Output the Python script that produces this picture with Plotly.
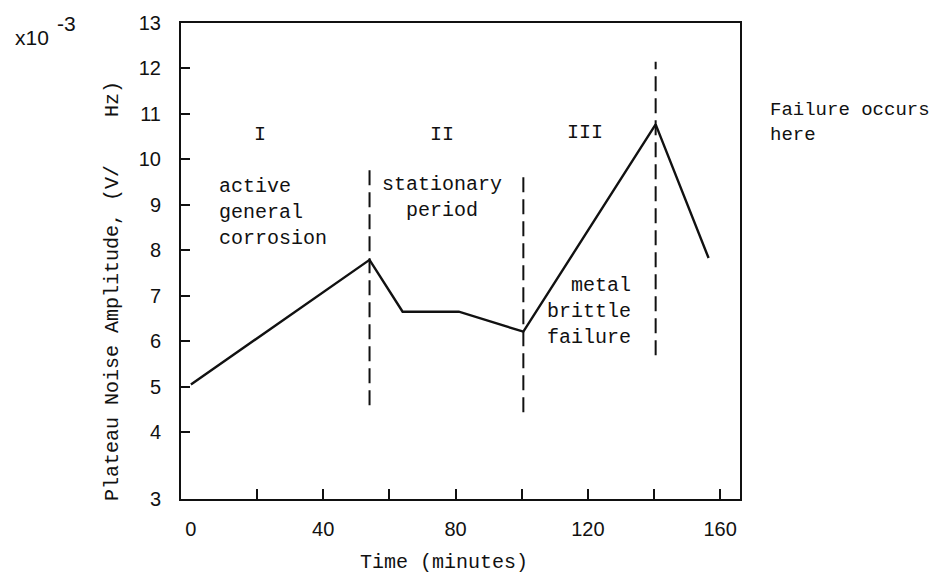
import plotly.graph_objects as go

# ---- data ----
time_min = [0, 54, 64, 81, 100.5, 140.5, 156.5]
amplitude = [5.05, 7.79, 6.65, 6.65, 6.21, 10.77, 7.83]

phase_bounds = [54, 100.5, 140.5]
phase_bound_low = [4.59, 4.44, 5.69]
phase_bound_high = [9.78, 9.74, 12.15]

x_label_vals = [0, 40, 80, 120, 160]
x_label_text = ["0", "40", "80", "120", "160"]
x_minor_vals = [20, 40, 60, 80, 100, 120, 140, 160]
y_tick_vals = [2.53, 4, 5, 6, 7, 8, 9, 10, 11, 12, 13]
y_tick_text = ["3", "4", "5", "6", "7", "8", "9", "10", "11", "12", "13"]

MONO = "Liberation Mono"
SANS = "Liberation Sans"
INK = "#111111"

fig = go.Figure()
fig.add_trace(go.Scatter(x=time_min, y=amplitude, mode="lines",
                         line=dict(color=INK, width=2.4), showlegend=False,
                         hoverinfo="skip"))

for xb, y0, y1 in zip(phase_bounds, phase_bound_low, phase_bound_high):
    fig.add_shape(type="line", x0=xb, x1=xb, y0=y0, y1=y1, xref="x", yref="y",
                  line=dict(color=INK, width=2, dash="15px,7px"))

def ann(text, x, y, xanchor="center", yanchor="middle", align="center",
        size=20, family=MONO, xref="x", yref="y", angle=0):
    fig.add_annotation(text=text, x=x, y=y, xref=xref, yref=yref,
                       xanchor=xanchor, yanchor=yanchor, align=align,
                       showarrow=False, textangle=angle,
                       font=dict(family=family, size=size, color=INK))

ann("I", 20.9, 10.55)
ann("II", 75.9, 10.55)
ann("III", 119.1, 10.6)
ann("active<br>general<br>corrosion", 7.9, 8.84, xanchor="left", align="left")
ann("stationary<br>period", 75.9, 9.16)
ann("metal<br>brittle<br>failure", 133.7, 6.65, xanchor="right", align="right")

# outside-plot texts (paper coords)
ann("Failure occurs<br>here", 1.050, 0.792, xanchor="left", align="left",
    size=19, xref="paper", yref="paper")
ann("x10", -0.3005, 0.970, xanchor="left", family=SANS, size=21,
    xref="paper", yref="paper")
ann("-3", -0.2254, 0.998, xanchor="left", family=SANS, size=21,
    xref="paper", yref="paper")
ann("Time (minutes)", 0.4705, -0.134, xref="paper", yref="paper")
ann("Plateau Noise Amplitude, (V/\u00a0\u00a0\u00a0\u00a0Hz)", -0.1216, 0.437,
    xref="paper", yref="paper", angle=-90)

fig.update_xaxes(range=[-3, 166], showgrid=False, zeroline=False,
                 showline=True, linecolor=INK, linewidth=2, mirror=True,
                 tickmode="array", tickvals=x_label_vals, ticktext=x_label_text,
                 ticks="", ticklabelstandoff=11,
                 tickfont=dict(family=SANS, size=20, color=INK),
                 minor=dict(tickmode="array", tickvals=x_minor_vals,
                            ticks="inside", ticklen=10, tickwidth=2,
                            tickcolor=INK, showgrid=False))
fig.update_yaxes(range=[2.53, 13], showgrid=False, zeroline=False,
                 showline=True, linecolor=INK, linewidth=2, mirror=True,
                 tickmode="array", tickvals=y_tick_vals, ticktext=y_tick_text,
                 ticks="inside", ticklen=9, tickwidth=2, tickcolor=INK,
                 ticklabelstandoff=14,
                 tickfont=dict(family=SANS, size=20, color=INK))

fig.update_layout(width=952, height=579,
                  margin=dict(l=181, r=212, t=21, b=80),
                  paper_bgcolor="white", plot_bgcolor="white")

fig.write_html("out.html")
